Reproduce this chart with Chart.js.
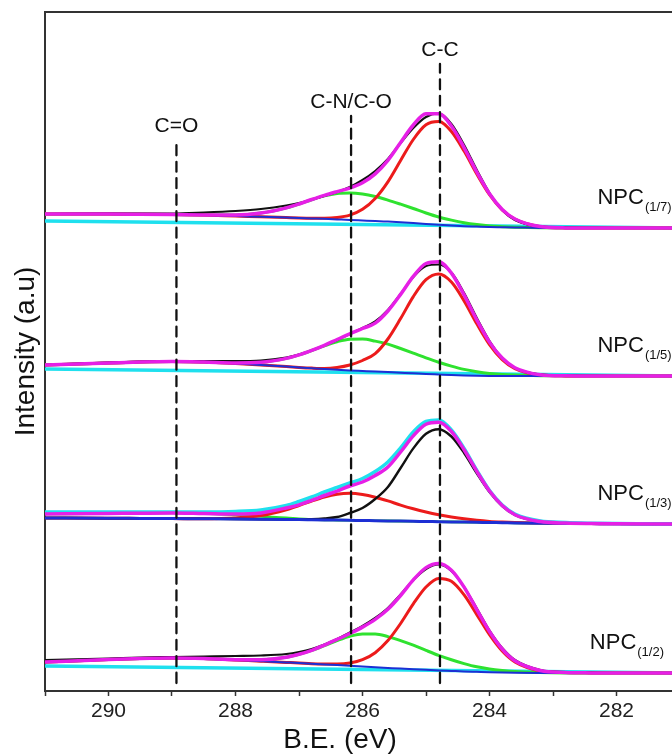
<!DOCTYPE html>
<html><head><meta charset="utf-8">
<script src="https://cdn.jsdelivr.net/npm/chart.js@4.4.1/dist/chart.umd.min.js"></script>
<style>
html,body{margin:0;padding:0;background:#fff;overflow:hidden;}
#wrap{width:672px;height:756px;overflow:hidden;position:relative;background:#fff;}
canvas{display:block;}
</style>
</head><body>
<div id="wrap"><canvas id="c" width="700" height="756" style="width:700px;height:756px"></canvas></div>
<script>
// Binding energy grid (eV)
const bindingEnergy = [291,290,289.5,289,288.5,288,287.6,287.2,287.0,286.8,286.6,286.4,286.2,286.0,285.8,285.6,285.4,285.2,285.0,284.8,284.6,284.4,284.2,284.0,283.8,283.6,283.2,282.8,282.4,282,281];
const linearBgBE = [291, 281];
const xTickValues = [282, 284, 286, 288, 290];

// NPC(1/7) — stacked intensity (a.u.)
const p17Raw   = [477,477.5,477.5,477.5,478.5,480,482,485.5,488,491.5,495,499,504,511,520,532,548,563,574,577.5,567,546,521,498,481,471,464.5,463.5,463.2,463,463];
const p17Fit   = [477,477,476.8,476.5,476.1,476,477.9,483.1,487,491.5,495.7,499.4,502.9,508.2,517.1,530.7,548.5,566,577.2,577.2,565,543.4,519,497.3,481.6,472,464.4,463.1,463,463,463];
const p17CC    = [477,477,476.8,476.5,476,475,474.2,473.4,473,472.8,472.8,473.5,475.9,481.7,492.6,509.2,530.5,551.5,566.2,569.4,559.5,539.9,517,496.3,481.1,471.8,464.3,463.1,463,463,463];
const p17CN    = [477,477,476.8,476.5,476.1,476,477.9,483.1,487,491.3,495.1,497.5,498,497,494.5,490.9,486.8,482.5,478,474,470.9,468.3,466.4,465,464.3,463.8,463.2,463,463,463,463];
const p17Shir  = [477,477,476.8,476.5,476,475,474.2,473.4,473,472.6,472.2,471.6,471,470.5,470,469.4,468.8,468,467,466.2,465.4,464.8,464.4,464,463.8,463.6,463.1,463,463,463,463];
const p17Lin   = [470, 463];

// NPC(1/5)
const p15Raw   = [326,328.5,329.5,330,330,330,330.5,333.5,336.5,340.5,345.5,351,357,363,369.5,381,397,414,425,426.5,418.5,398,373,350,333,323,316.5,315.5,315.2,315,315];
const p15Fit   = [326,328,329,329.5,329,328.1,328.7,332.6,336.1,340.6,345.7,351.5,357.2,362.5,367.9,380,396.6,414.6,427.5,429.3,417.9,396.1,371.2,348.9,332.9,323.3,316.3,315.2,315,315,315];
const p15CC    = [326,328,329,329.5,329,327.5,326,324.5,323.6,322.9,322.5,323.5,326,330.5,337.4,352,372.4,394.4,411.3,417,409,390.1,367.2,346.4,331.4,322.4,316,315.1,315,315,315];
const p15CN    = [326,328,329,329.5,329,328.1,328.7,332.6,336.1,340.5,345.2,349.3,351.8,352,349.9,346.9,342.5,337.9,333.2,328.8,324.9,321.6,319.3,317.6,316.5,315.9,315.3,315.1,315,315,315];
const p15Shir  = [326,328,329,329.5,329,327.5,326,324.5,323.6,322.8,322,321.3,320.6,320,319.4,318.9,318.3,317.7,317,316.5,316,315.6,315.3,315.1,315,315,315,315,315,315,315];
const p15Lin   = [322, 315];

// NPC(1/3)
const p13Raw   = [179,179,179,179,179,179.5,181,185.5,189.5,194,199,203.5,208,212.5,219.5,229,243,259,269.5,271,261,242.5,220.5,200.5,186,177,170,168.5,167.8,167.4,167];
const p13Fit   = [177,177.5,177.8,178,177.5,177,178.1,183,186.2,190.7,195.5,199.9,205,209,215.5,224,239,255.1,266.7,268.8,259.5,241.3,219.7,200,185.5,176.3,169.4,167.9,167.4,167.2,167];
const p13CC    = [173,172.8,172.6,172.4,172.2,172,171.8,171.6,171.5,171.8,172.6,174,178,183,192,204,223,242.6,257.2,261.8,254.5,238,217.7,198.9,184.9,176,169.3,167.9,167.4,167.2,167];
const p13CN    = [173,172.8,172.6,172.4,172.2,173,175.4,181.3,185.5,190,194,196.8,197.7,196.5,193.8,190.1,185.9,182.2,179,176.3,174.1,172.2,170.7,169.6,168.9,168.4,167.9,167.6,167.4,167.2,167];
const p13CO    = [177,177.5,177.8,178,177.5,176,174.5,173.3,172.2,171.5,171.1,170.9,170.7,170.5,170.3,170.1,169.9,169.7,169.5,169.3,169.1,168.9,168.7,168.5,168.3,168.1,167.8,167.6,167.4,167.2,167];
const p13Bg    = [173,172.8,172.6,172.4,172.2,172,171.8,171.6,171.5,171.3,171.1,170.9,170.7,170.5,170.3,170.1,169.9,169.7,169.5,169.3,169.1,168.9,168.7,168.5,168.3,168.1,167.8,167.6,167.4,167.2,167];

// NPC(1/2)
const p12Raw   = [31,32.5,33.5,34,34.5,35,35.5,37,39,42,46.5,52,58.5,65,73,83,96.5,111,122,126.5,120,104,82.5,60.5,43,31,21,19,18.3,18,18];
const p12Fit   = [29,31.5,32.5,33,32.5,31.3,31.3,33.8,36.7,40.6,45.9,51.6,57.5,63.9,71.6,81.7,95.5,111.1,123.4,127.6,120.8,103.9,81.4,59.5,42,30.2,20.5,18.5,18.1,18,18];
const p12CC    = [29,31.5,32.5,33,32.5,31,29.8,28.6,28,27.3,27.1,27.1,28,31.3,38.3,50.4,67.5,87.1,104,112.6,109.7,96.1,76.4,56.3,40,29.1,20.1,18.4,18.1,18,18];
const p12CN    = [29,31.5,32.5,33,32.5,31.3,31.3,33.8,36.7,40.6,45.4,50.4,54.7,57.1,57.1,54.4,50.4,45.8,40.6,35.6,31.2,27.4,24.2,22,20.5,19.4,18.5,18.1,18,18,18];
const p12Shir  = [29,31.5,32.5,33,32.5,31,29.8,28.6,28,27.3,26.6,25.9,25.2,24.5,23.8,23.1,22.4,21.8,21.2,20.6,20.1,19.6,19.2,18.8,18.5,18.3,18.1,18,18,18,18];
const p12Lin   = [25, 18];

// Reference peak positions
const refNames = ['C=O', 'C-N/C-O', 'C-C'];
const refBE    = [288.93, 286.18, 284.78];
const refTop   = [551, 575, 627];
const refBottom = 8;

const panelNames = ['(1/7)', '(1/5)', '(1/3)', '(1/2)'];
const panelBaselines = [p17Shir, p15Shir, p13Bg, p12Shir];

const COL = {black:'#111111', magenta:'#e61fe6', red:'#ec1b1b', green:'#2fe22f', blue:'#1d2fd4', cyan:'#1fe0ee'};
const FONT = '"Liberation Sans", Arial, Helvetica, sans-serif';

function pts(ys){ return bindingEnergy.map((x,i)=>({x:x, y:ys[i]})); }
function lin(ys){ return linearBgBE.map((x,i)=>({x:x, y:ys[i]})); }
function ds(data, color, width, order){
  return {data:data, borderColor:color, borderWidth:width, order:order, fill:false, pointRadius:0, cubicInterpolationMode:'monotone'};
}

const datasets = [];
// reference dashed lines
refBE.forEach((be,i)=>{
  datasets.push({data:[{x:be,y:refBottom},{x:be,y:refTop[i]}], borderColor:'#111', borderWidth:2.3, borderDash:[10,6.5], order:0, pointRadius:0, fill:false});
});
// standard panels
[[p17Raw,p17Fit,p17CC,p17CN,p17Shir,p17Lin],[p15Raw,p15Fit,p15CC,p15CN,p15Shir,p15Lin],[p12Raw,p12Fit,p12CC,p12CN,p12Shir,p12Lin]].forEach(p=>{
  datasets.push(ds(pts(p[1]), COL.magenta, 3.5, 1));
  datasets.push(ds(pts(p[0]), COL.black, 2.2, 2));
  datasets.push(ds(pts(p[4]), COL.blue, 2, 3));
  datasets.push(ds(pts(p[2]), COL.red, 3, 4));
  datasets.push(ds(pts(p[3]), COL.green, 3, 5));
  datasets.push(ds(lin(p[5]), COL.cyan, 3.5, 6));
});
// NPC(1/3) panel
datasets.push(ds(pts(p13Fit), COL.magenta, 3.5, 1));
datasets.push(ds(pts(p13Raw), COL.cyan, 3.5, 2));
datasets.push(ds(pts(p13Bg), COL.blue, 3, 3));
datasets.push(ds(pts(p13CC), COL.black, 2.4, 4));
datasets.push(ds(pts(p13CN), COL.red, 3, 5));
datasets.push(ds(pts(p13CO), COL.green, 2.6, 6));

const textPlugin = {
  id:'texts',
  afterDraw(chart){
    const ctx = chart.ctx, xs = chart.scales.x, ys = chart.scales.y, a = chart.chartArea;
    ctx.save();
    // top frame line
    ctx.strokeStyle = '#333'; ctx.lineWidth = 2;
    ctx.beginPath(); ctx.moveTo(a.left, a.top); ctx.lineTo(a.right, a.top); ctx.stroke();
    ctx.fillStyle = '#111';
    // reference labels
    ctx.font = '21px ' + FONT; ctx.textAlign = 'center'; ctx.textBaseline = 'alphabetic';
    refNames.forEach((n,i)=>{
      ctx.fillText(n, xs.getPixelForValue(refBE[i]), ys.getPixelForValue(refTop[i]) - 8);
    });
    // panel labels
    panelNames.forEach((sub,i)=>{
      const base = panelBaselines[i];
      const yb = ys.getPixelForValue(base[base.length-1]) - 24;
      const x0 = xs.getPixelForValue(i === 3 ? 282.42 : 282.3);
      ctx.textAlign = 'left';
      ctx.font = '22px ' + FONT;
      ctx.fillText('NPC', x0, yb);
      const w = ctx.measureText('NPC').width;
      ctx.font = '13px ' + FONT;
      ctx.fillText(sub, x0 + w + 1, yb + 7);
    });
    // axis titles
    ctx.font = '28px ' + FONT; ctx.textAlign = 'center'; ctx.textBaseline = 'middle';
    ctx.fillText('B.E. (eV)', 340, 740);
    ctx.translate(26, (a.top + a.bottom) / 2);
    ctx.rotate(-Math.PI/2);
    ctx.fillText('Intensity (a.u)', 0, 0);
    ctx.restore();
  }
};

new Chart(document.getElementById('c'), {
  type:'line',
  data:{datasets:datasets},
  options:{
    responsive:false, animation:false, devicePixelRatio:1,
    layout:{padding:{top:12, right:20, left:0, bottom:0}},
    plugins:{legend:{display:false}, tooltip:{enabled:false}},
    elements:{line:{borderCapStyle:'round', borderJoinStyle:'round', tension:0.4}},
    scales:{
      x:{type:'linear', reverse:true, min:281, max:291,
        ticks:{stepSize:1, autoSkip:false, maxRotation:0, padding:3, color:'#222', font:{family:FONT, size:21},
          callback:(v)=> xTickValues.includes(v) ? String(v) : ''},
        grid:{drawOnChartArea:false, drawTicks:true, tickLength:5, tickColor:'#333', tickWidth:1.5},
        border:{display:true, color:'#333', width:2},
        afterFit:(s)=>{ s.height = 65; }
      },
      y:{type:'linear', min:0, max:679,
        ticks:{display:false},
        grid:{display:false, drawTicks:false},
        border:{display:true, color:'#333', width:2},
        afterFit:(s)=>{ s.width = 45; }
      }
    }
  },
  plugins:[textPlugin]
});
</script>
</body></html>
